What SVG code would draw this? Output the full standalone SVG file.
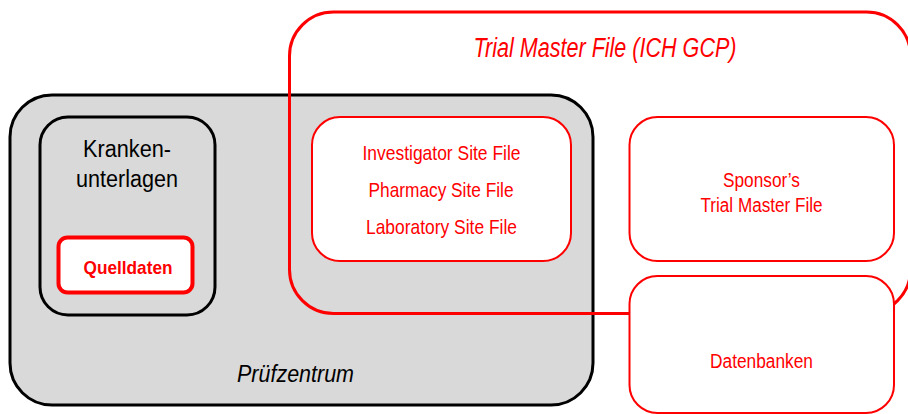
<svg xmlns="http://www.w3.org/2000/svg" width="908" height="414" viewBox="0 0 908 414">
  <style>
    text { font-family: "Liberation Sans", Arial, sans-serif; text-anchor: middle; }
    .red { fill: #ff0000; }
    .blk { fill: #000000; }
    .site { fill: #d9d9d9; stroke: #000; stroke-width: 3; }
    .inner { fill: none; stroke: #000; stroke-width: 3; }
    .file { fill: #ffffff; stroke: #ff0000; stroke-width: 2; }
    .src { fill: #ffffff; stroke: #ff0000; stroke-width: 4; }
    .tmf { fill: none; stroke: #ff0000; stroke-width: 3; }
  </style>

  <!-- Investigator site area -->
  <g id="pruefzentrum">
    <rect class="site" x="10" y="95" width="583" height="310" rx="42"/>
    <text class="blk" x="295.5" y="382" font-size="23" font-style="italic" textLength="117" lengthAdjust="spacingAndGlyphs">Prüfzentrum</text>
  </g>

  <g id="krankenunterlagen">
    <rect class="inner" x="40" y="117" width="175" height="198" rx="28"/>
    <text class="blk" x="127" y="157" font-size="23" textLength="88" lengthAdjust="spacingAndGlyphs">Kranken-</text>
    <text class="blk" x="127" y="187" font-size="23" textLength="102" lengthAdjust="spacingAndGlyphs">unterlagen</text>
  </g>

  <g id="quelldaten">
    <rect class="src" x="58.5" y="237.5" width="134" height="55" rx="9"/>
    <text class="red" x="128" y="273.5" font-size="19" font-weight="bold" textLength="89" lengthAdjust="spacingAndGlyphs">Quelldaten</text>
  </g>

  <!-- Trial Master File outline (open to the right edge) -->
  <g id="tmf">
    <rect class="tmf" x="289.5" y="12" width="621" height="301.5" rx="44"/>
    <text class="red" x="605" y="57" font-size="27" font-style="italic" textLength="263" lengthAdjust="spacingAndGlyphs">Trial Master File (ICH GCP)</text>
  </g>

  <g id="site-files">
    <rect class="file" x="312" y="117" width="259" height="144" rx="28"/>
    <text class="red" x="441.5" y="160" font-size="21" textLength="158" lengthAdjust="spacingAndGlyphs">Investigator Site File</text>
    <text class="red" x="441" y="197" font-size="21" textLength="145" lengthAdjust="spacingAndGlyphs">Pharmacy Site File</text>
    <text class="red" x="441.5" y="234" font-size="21" textLength="151" lengthAdjust="spacingAndGlyphs">Laboratory Site File</text>
  </g>

  <g id="sponsor-tmf">
    <rect class="file" x="629.5" y="117" width="264.5" height="144" rx="28"/>
    <text class="red" x="761.5" y="187" font-size="20" textLength="77" lengthAdjust="spacingAndGlyphs">Sponsor’s</text>
    <text class="red" x="761.5" y="212" font-size="20" textLength="122" lengthAdjust="spacingAndGlyphs">Trial Master File</text>
  </g>

  <g id="datenbanken">
    <rect class="file" x="629.5" y="276" width="264.5" height="137" rx="28"/>
    <text class="red" x="761.5" y="367.5" font-size="20" textLength="103" lengthAdjust="spacingAndGlyphs">Datenbanken</text>
  </g>

  <g id="connectors"/>
</svg>
